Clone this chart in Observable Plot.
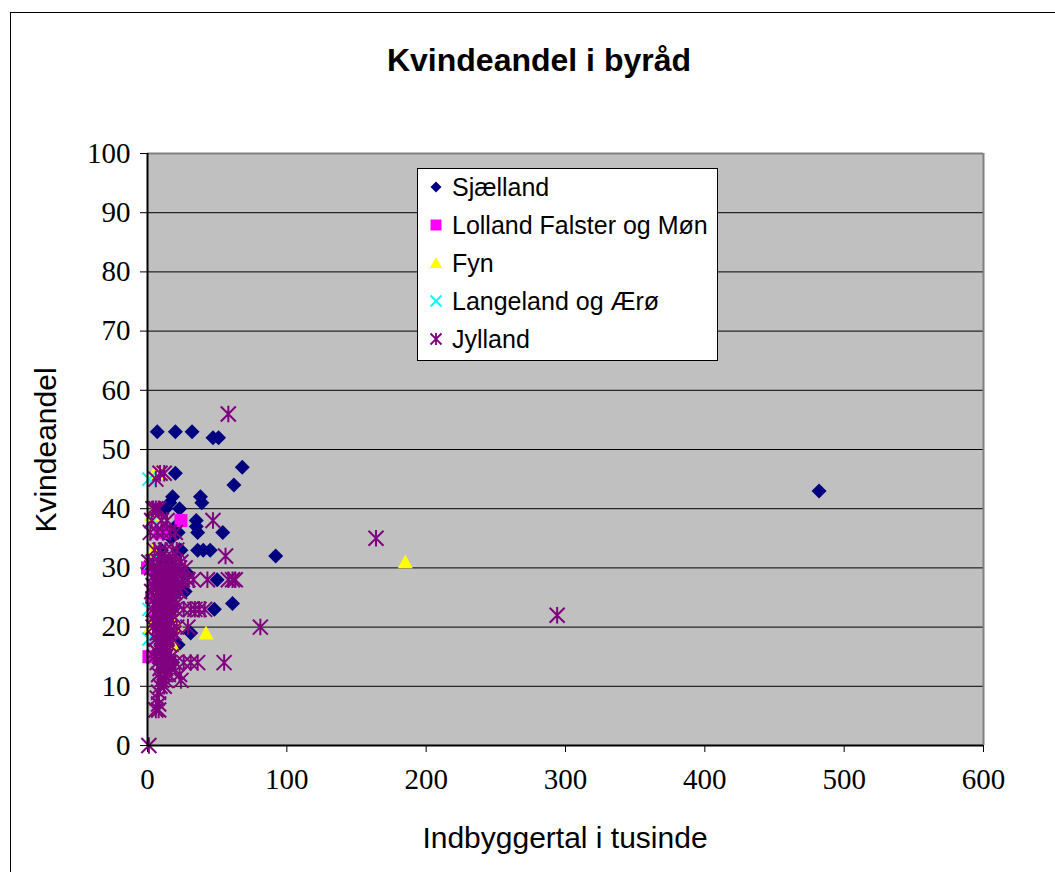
<!DOCTYPE html>
<html><head><meta charset="utf-8">
<script src="https://cdn.jsdelivr.net/npm/d3@7"></script>
<script src="https://cdn.jsdelivr.net/npm/@observablehq/plot@0.6"></script>
<style>
html,body{margin:0;padding:0;overflow:hidden;background:#fff;}
#wrap{position:relative;width:1055px;height:872px;overflow:hidden;}
#frame{position:absolute;left:10px;top:12px;width:1100px;height:900px;border:1px solid #000;box-sizing:border-box;}
.t{position:absolute;font-family:"Liberation Sans",Arial,sans-serif;color:#000;white-space:nowrap;line-height:1;}
#title{left:539px;top:60px;transform:translate(-50%,-50%);font-size:32px;font-weight:bold;}
#xlab{left:565px;top:838px;transform:translate(-50%,-50%);font-size:30px;}
#ylab{left:46px;top:450px;font-size:30px;transform:translate(-50%,-50%) rotate(-90deg);}
#legend{position:absolute;left:417px;top:168px;width:301px;height:193px;background:#fff;border:1px solid #000;box-sizing:border-box;}
.row{position:absolute;left:8px;height:34px;display:flex;align-items:center;font-family:"Liberation Sans",Arial,sans-serif;font-size:25px;white-space:nowrap;}
.row svg{width:20px;height:20px;margin-right:6px;}
#chart{position:absolute;left:0;top:0;}
#chart svg text{font-family:"Liberation Serif","Times New Roman",serif !important;font-size:29px !important;}
</style></head><body><div id="wrap"><div id="frame"></div><div id="chart"></div>
<div class="t" id="title">Kvindeandel i byråd</div>
<div class="t" id="xlab">Indbyggertal i tusinde</div>
<div class="t" id="ylab">Kvindeandel</div>
<div id="legend"></div>
</div>
<script>
// Series: [indbyggertal i tusinde, kvindeandel]
const seriesNames = ["Sjælland", "Lolland Falster og Møn", "Fyn", "Langeland og Ærø", "Jylland"];
const seriesColors = ["#000080", "#FF00FF", "#FFFF00", "#00FFFF", "#800080"];

const sjaelland = [
  [7,53],[20,53],[32,53],[47,52],[51,52],[68,47],[62,44],[20,46],[18,42],[38,42],[39,41],[16,41],
  [23,40],[9,40],[13,40],[35,38],[35,37],[20,37],[22,36],[36,36],[54,36],[24,33],[36,33],[40,33],
  [45,33],[92,32],[29,29],[20,30],[50,28],[27,26],[15,27],[61,24],[48,23],[31,19],[22,17],[10,33],
  [14,31],[17,35],[12,25],[8,20],[18,14],[482,43],[5,29],[10,24],[26,29],[22,26]
];
const lolland = [[24,38],[0,30],[1,15],[9,36],[11,36],[3,25],[6,22],[5,27]];
const fyn = [[185,31],[42,19],[20,21],[19,20],[18,17],[13,15],[9,16],[5,46],[9,46],[4,33],[3,39],[2,20],[12,29],[7,26],[15,23],[10,13]];
const langeland = [[1,45],[1,23],[1,18],[4,38],[2,31]];
const jylland = [
  [58,56],[9,46],[6,45],[12,46],[4,40],[6,40],[8,40],[47,38],[3,38],[10,38],[14,38],[2,36],[7,36],[11,36],
  [16,36],[20,36],[56,32],[164,35],[294,22],[81,20],[55,14],
  [5,33],[9,33],[13,33],[18,33],[21,33],
  [1,31],[4,31],[8,31],[12,31],[16,31],[20,31],[24,31],[3,30],[7,30],[11,30],[15,30],[19,30],[23,30],[27,30],
  [6,29],[10,29],[14,29],[18,29],
  [29,28],[33,28],[43,28],[58,28],[61,28],[63,28],[5,28],[9,28],[13,28],[17,28],[21,28],[25,28],
  [4,27],[8,27],[12,27],[16,27],[20,27],[24,27],
  [3,26],[7,26],[11,26],[15,26],[19,26],[23,26],
  [6,25],[10,25],[14,25],[18,25],
  [5,24],[9,24],[13,24],[17,24],[21,24],
  [31,23],[34,23],[37,23],[41,23],[4,23],[8,23],[12,23],[16,23],[20,23],[26,23],
  [6,22],[10,22],[14,22],[18,22],
  [5,21],[9,21],[13,21],[17,21],
  [29,20],[4,20],[8,20],[12,20],[16,20],[21,20],
  [7,19],[11,19],[15,19],[19,19],
  [6,18],[10,18],[14,18],[18,18],
  [8,17],[12,17],[16,17],
  [6,16],[10,16],[14,16],
  [5,15],[9,15],[13,15],[17,15],
  [26,14],[31,14],[36,14],[7,14],[11,14],[15,14],[20,14],
  [9,13],[13,13],[17,13],
  [23,12],[8,12],[12,12],[15,12],
  [10,11],[13,11],[24,11],
  [9,10],[12,10],
  [8,9],[7,8],[8,7],[6,6],[8,6],[1,0]
];
const xTicks = [0,100,200,300,400,500,600];
const yTicks = [0,10,20,30,40,50,60,70,80,90,100];

function mk(fn){ return {draw(ctx,size){ fn(ctx, Math.sqrt(size/Math.PI)); }}; }
const drawDiamond = (c,r)=>{c.moveTo(0,-r);c.lineTo(r,0);c.lineTo(0,r);c.lineTo(-r,0);c.closePath();};
const drawSquare = (c,r)=>{c.moveTo(-r,-r);c.lineTo(r,-r);c.lineTo(r,r);c.lineTo(-r,r);c.closePath();};
const drawTriangle = (c,r)=>{c.moveTo(0,-r);c.lineTo(r,r*0.85);c.lineTo(-r,r*0.85);c.closePath();};
const drawTimes = (c,r)=>{c.moveTo(-r,-r);c.lineTo(r,r);c.moveTo(r,-r);c.lineTo(-r,r);};
const drawAsterisk = (c,r)=>{c.moveTo(-r,-r);c.lineTo(r,r);c.moveTo(r,-r);c.lineTo(-r,r);c.moveTo(0,-r*1.1);c.lineTo(0,r*1.1);};
const draws = [drawDiamond, drawSquare, drawTriangle, drawTimes, drawAsterisk];
const filled = [true,true,true,false,false];
const sizes = [7.5,6.5,7.5,6.5,7.5];
const seriesData = [sjaelland, lolland, fyn, langeland, jylland];

const marks = [
  Plot.frame({fill:"#C0C0C0"}),
  Plot.ruleY(yTicks.filter(d=>d>0 && d<100), {stroke:"#000", strokeWidth:1}),
  Plot.ruleY([100], {stroke:"#808080", strokeWidth:2}),
  Plot.ruleX([600], {stroke:"#808080", strokeWidth:2}),
  Plot.axisY({ticks:yTicks, tickSize:7, tickPadding:10}),
  Plot.axisX({ticks:xTicks, tickSize:7, tickPadding:16})
];
seriesData.forEach((data,i)=>{
  const opts = {x:d=>d[0], y:d=>d[1], r:sizes[i], symbol:mk(draws[i])};
  if (filled[i]) { opts.fill = seriesColors[i]; opts.stroke = "none"; }
  else { opts.fill = "none"; opts.stroke = seriesColors[i]; opts.strokeWidth = 2; }
  marks.push(Plot.dot(data, opts));
});
marks.push(Plot.ruleX([0], {stroke:"#000", strokeWidth:2}));
marks.push(Plot.ruleY([0], {stroke:"#000", strokeWidth:2}));

const chart = Plot.plot({
  width:1055, height:872,
  marginLeft:147, marginRight:72, marginTop:153, marginBottom:127,
  style:{background:"transparent", color:"#000", overflow:"visible"},
  x:{domain:[0,600], label:null},
  y:{domain:[0,100], label:null},
  marks
});
document.getElementById("chart").appendChild(chart);

// legend
const leg = document.getElementById("legend");
seriesNames.forEach((name,i)=>{
  const row = document.createElement("div");
  row.className = "row";
  row.style.top = (1 + i*38) + "px";
  const p = d3.path();
  draws[i](p, i===2?6:5.5);
  const svg = `<svg viewBox="-10 -10 20 20"><path d="${p.toString()}" ${filled[i]?`fill="${seriesColors[i]}"`:`fill="none" stroke="${seriesColors[i]}" stroke-width="1.8"`}/></svg>`;
  row.innerHTML = svg + `<span>${name}</span>`;
  leg.appendChild(row);
});
</script>
</body></html>
